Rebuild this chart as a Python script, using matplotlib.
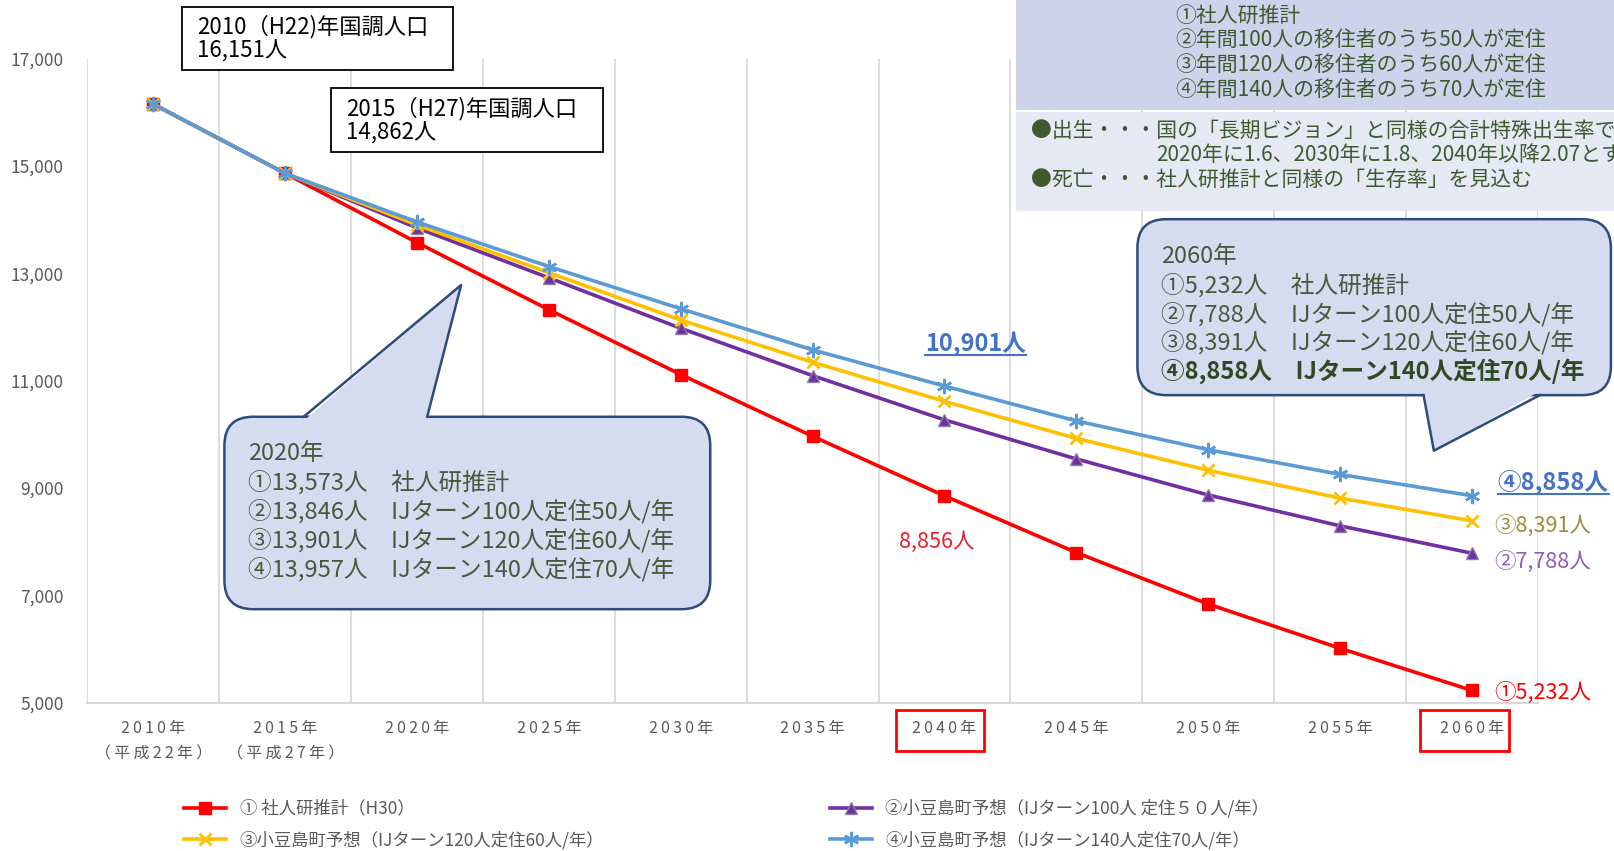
import numpy as np
import matplotlib
matplotlib.use('Agg')
import matplotlib.pyplot as plt
from matplotlib.patches import FancyBboxPatch, Polygon, Rectangle
from matplotlib.lines import Line2D
from matplotlib.transforms import Affine2D, IdentityTransform

plt.rcParams['font.family'] = ['Noto Sans CJK JP', 'DejaVu Sans']

# data
years = ['2010年', '2015年', '2020年', '2025年', '2030年', '2035年',
         '2040年', '2045年', '2050年', '2055年', '2060年']
sub_labels = ['（平成22年）', '（平成27年）', '', '', '', '', '', '', '', '', '']
shajinken = [16151, 14862, 13573, 12322, 11115, 9965, 8856, 7799, 6840, 6016, 5232]
case50 = [16151, 14862, 13846, 12916, 11977, 11095, 10271, 9543, 8872, 8297, 7788]
case60 = [16151, 14862, 13901, 13012, 12131, 11345, 10616, 9926, 9332, 8814, 8391]
case70 = [16151, 14862, 13957, 13127, 12341, 11575, 10901, 10252, 9715, 9255, 8858]
names = ['① 社人研推計（H30）',
         '②小豆島町予想（IJターン100人 定住５０人/年）',
         '③小豆島町予想（IJターン120人定住60人/年）',
         '④小豆島町予想（IJターン140人定住70人/年）']


def spaced(s):
    # letter spaced tick labels
    return '\u2009'.join(s)


fig = plt.figure(figsize=(16.14, 8.51), dpi=100)
ax = fig.add_axes([0.0542, 0.1741, 0.8986, 0.757])
# pixel-like coords of the reference (y down)
T = Affine2D().scale(1 / 1568, -1 / 827).translate(0, 1) + fig.transFigure

x = np.arange(len(years))
l1, = ax.plot(x, shajinken, color='#FF0000', lw=2.6, marker='s', ms=8, zorder=3)
l2, = ax.plot(x, case50, color='#7030A0', lw=2.6, marker='^', ms=8,
              markerfacecolor='#7030A0', markeredgecolor='#8E7CA8', zorder=4)
l3, = ax.plot(x, case60, color='#FFC000', lw=2.6, marker='x', ms=9, mew=2, zorder=5)
l4, = ax.plot(x, case70, color='#5B9BD5', lw=2.6, marker=(6, 2, 0), ms=11, mew=1.8, zorder=6)

ax.set_xlim(-0.5, 10.5)
ax.set_ylim(5000, 17000)
ax.set_yticks(range(5000, 17001, 2000))
ax.set_yticklabels([f'{v:,}' for v in range(5000, 17001, 2000)])
ax.set_xticks(x)
ax.set_xticklabels([spaced(a) + ('\n' + spaced(b) if b else '') for a, b in zip(years, sub_labels)],
                   linespacing=1.7)
ax.set_xticks(np.arange(-0.5, 11, 1), minor=True)
ax.grid(which='minor', axis='x', color='#D9D9D9', lw=1.3)
ax.tick_params(axis='both', which='both', length=0, colors='#595959')
ax.tick_params(axis='y', labelsize=12.5, pad=17)
ax.tick_params(axis='x', labelsize=11.5, pad=12)
for s in ['top', 'right', 'left']:
    ax.spines[s].set_visible(False)
ax.spines['bottom'].set_color('#D9D9D9')
ax.spines['bottom'].set_linewidth(1.5)

# red boxes on 2040 / 2060 labels
for bx in [870, 1380]:
    fig.add_artist(Rectangle((bx, 690), 86, 40, transform=T, fill=False,
                             edgecolor='#FF0000', lw=2, zorder=5))

# census boxes
for (bx, by, bw, bh, txt) in [(177, 7, 263, 61, '2010（H22)年国調人口\n16,151人'),
                              (322, 86, 264, 62, '2015（H27)年国調人口\n14,862人')]:
    fig.add_artist(Rectangle((bx, by), bw, bh, transform=T, facecolor='white',
                             edgecolor='black', lw=1.3, zorder=5))
    fig.text(bx + 14, by + bh / 2, txt, transform=T, fontsize=16, va='center',
             ha='left', linespacing=1.05, zorder=6)

# top right info box
green = '#3D5A2F'
fig.add_artist(Rectangle((987, -5), 600, 112, transform=T, facecolor='#CDD3EB',
                         edgecolor='none', zorder=5))
fig.add_artist(Rectangle((987, 109), 600, 96, transform=T, facecolor='#E6E9F4',
                         edgecolor='none', zorder=5))
for i, t in enumerate(['①社人研推計', '②年間100人の移住者のうち50人が定住',
                       '③年間120人の移住者のうち60人が定住', '④年間140人の移住者のうち70人が定住']):
    fig.text(1142, 15 + 24.3 * i, t, transform=T, fontsize=15, color=green,
             va='center', ha='left', zorder=6)
fig.text(1002, 127, '●出生・・・国の「長期ビジョン」と同様の合計特殊出生率で', transform=T,
         fontsize=15, color=green, va='center', zorder=6)
fig.text(1123, 151, '2020年に1.6、2030年に1.8、2040年以降2.07とす', transform=T,
         fontsize=15, color=green, va='center', zorder=6)
fig.text(1002, 175, '●死亡・・・社人研推計と同様の「生存率」を見込む', transform=T,
         fontsize=15, color=green, va='center', zorder=6)


def callout(box, base, tip, lines, bold_last=False):
    x0, y0, x1, y1 = box
    fill, edge = '#D6DCF0', '#2F4B7C'
    fig.add_artist(FancyBboxPatch((x0, y0), x1 - x0, y1 - y0, transform=T,
                                  boxstyle='round,pad=0,rounding_size=28',
                                  facecolor=fill, edgecolor=edge, lw=1.8, zorder=7))
    (bx0, by), (bx1, _) = base
    inner = by + (4 if by == y0 else -4)
    fig.add_artist(Polygon([(bx0, inner), tip, (bx1, inner)], transform=T,
                           facecolor=fill, edgecolor='none', zorder=8))
    fig.add_artist(Line2D([bx0, tip[0], bx1], [by, tip[1], by], transform=T,
                          color=edge, lw=1.8, zorder=9))
    for i, t in enumerate(lines):
        bold = bold_last and i == len(lines) - 1
        fig.text(x0 + 23, y0 + 36 + 28 * i, t, transform=T, fontsize=17,
                 color='#2F4A22' if bold else '#46593C',
                 fontweight='bold' if bold else 'normal', va='center', zorder=10)


callout((218, 405, 690, 592), [(295, 405), (415, 405)], (448, 277),
        ['2020年', '①13,573人　社人研推計', '②13,846人　IJターン100人定住50人/年',
         '③13,901人　IJターン120人定住60人/年', '④13,957人　IJターン140人定住70人/年'])
callout((1105, 213, 1565, 384), [(1383, 384), (1496, 384)], (1393, 438),
        ['2060年', '①5,232人　社人研推計', '②7,788人　IJターン100人定住50人/年',
         '③8,391人　IJターン120人定住60人/年', '④8,858人　IJターン140人定住70人/年'],
        bold_last=True)

# value labels
under = []
under.append(fig.text(948, 334, '10,901人', transform=T, fontsize=17, color='#4472C4',
                      fontweight='bold', ha='center', va='center', zorder=6))
fig.text(910, 527, '8,856人', transform=T, fontsize=15.5, color='#E8202A',
         ha='center', va='center', zorder=6)
under.append(fig.text(1455, 469, '④8,858人', transform=T, fontsize=17, color='#4472C4',
                      fontweight='bold', ha='left', va='center', zorder=6))
fig.text(1452, 511, '③8,391人', transform=T, fontsize=15.5, color='#9C8B3B',
         ha='left', va='center', zorder=6)
fig.text(1452, 546, '②7,788人', transform=T, fontsize=15.5, color='#8E5DB8',
         ha='left', va='center', zorder=6)
fig.text(1452, 673, '①5,232人', transform=T, fontsize=15.5, color='#FF0000',
         ha='left', va='center', zorder=6)

fig.legend(handles=[l1, l3, l2, l4], labels=[names[0], names[2], names[1], names[3]],
           ncol=2, loc='upper left', bbox_to_anchor=(172 / 1568, 1 - 770 / 827),
           frameon=False, fontsize=12.5, labelcolor='#595959', columnspacing=13,
           handlelength=2.4, labelspacing=0.75, borderaxespad=0)

fig.canvas.draw()
r = fig.canvas.get_renderer()
for t in under:
    bb = t.get_window_extent(r)
    fig.add_artist(Line2D([bb.x0, bb.x1], [bb.y0 + 1, bb.y0 + 1], transform=IdentityTransform(),
                          color='#4472C4', lw=1.5, zorder=6))

fig.savefig('out.png', dpi=100)
